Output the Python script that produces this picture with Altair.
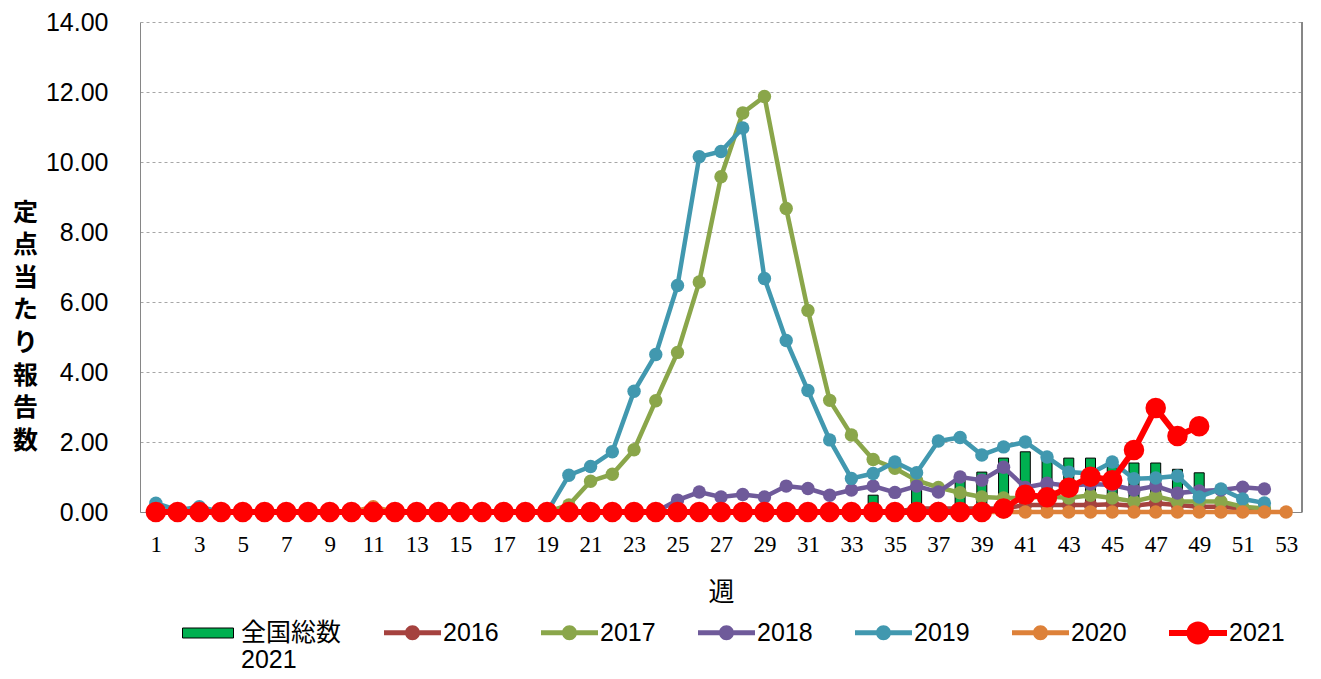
import altair as alt
import pandas as pd

# ---------------- data ----------------
weeks = list(range(1, 54))

y2016 = [0]*35 + [0.1, 0.1, 0.1, 0.1, 0.1,
                  0.2, 0.2, 0.2, 0.2, 0.22, 0.18, 0.25, 0.2, 0.15, 0.15, 0.1, 0.05]
y2017 = [0]*19 + [0.2, 0.88, 1.08, 1.78, 3.18, 4.56, 6.57, 9.58, 11.4, 11.87, 8.67,
                  5.76, 3.19, 2.2, 1.5, 1.25, 0.9, 0.7, 0.55, 0.43, 0.4,
                  0.4, 0.45, 0.4, 0.48, 0.4, 0.3, 0.45, 0.3, 0.3, 0.3, 0.15, 0.1]
y2018 = [0]*24 + [0.34, 0.57, 0.43, 0.5, 0.43, 0.74, 0.67, 0.48, 0.63, 0.74,
                  0.56, 0.74, 0.57, 1.0, 0.91, 1.28, 0.7, 0.82, 0.75, 0.8,
                  0.77, 0.63, 0.74, 0.54, 0.6, 0.63, 0.71, 0.66]
y2019 = [0.25, 0.05, 0.15] + [0]*16 + [1.05, 1.3, 1.72, 3.45, 4.5, 6.47, 10.15, 10.3,
                                      10.97, 6.67, 4.9, 3.47, 2.06, 0.96, 1.1, 1.43,
                                      1.12, 2.03, 2.13, 1.63, 1.86, 2.0, 1.57, 1.14,
                                      1.1, 1.43, 0.95, 0.97, 1.03, 0.43, 0.66, 0.37, 0.26]
y2020 = [0]*10 + [0.15] + [0]*42
y2021 = [0]*39 + [0.1, 0.49, 0.42, 0.69, 1.01, 0.91, 1.77, 2.97, 2.17, 2.45]

bar_weeks = [34, 36, 38, 39, 40, 41, 42, 43, 44, 45, 46, 47, 48, 49]
bar_values = [0.48, 0.85, 0.95, 1.14, 1.54, 1.72, 1.6, 1.54, 1.54, 1.45, 1.4, 1.4, 1.22, 1.12]

series_names = ["2016", "2017", "2018", "2019", "2020"]
series_values = [y2016, y2017, y2018, y2019, y2020]
series_colors = ["#A5423F", "#8AA64A", "#6F5A9A", "#4198AF", "#DD8139"]
bar_label = "全国総数2021"
y_title = ["定", "点", "当", "た", "り", "報", "告", "数"]

x_ticks = list(range(1, 54, 2))
y_ticks = [0, 2, 4, 6, 8, 10, 12, 14]

# ---------------- tables ----------------
bar_df = pd.DataFrame({"week": bar_weeks, "value": bar_values, "blabel": bar_label})
series_dfs = [
    pd.DataFrame({"week": weeks[:len(v)], "value": v, "series": n})
    for n, v in zip(series_names, series_values)
]
df2021 = pd.DataFrame({"week": weeks[:len(y2021)], "value": y2021, "s2021": "2021"})

W, H = 1162, 490
SANS = "Liberation Sans, Arial, Noto Sans CJK JP, sans-serif"

x_enc = alt.X(
    "week:Q",
    scale=alt.Scale(domain=[0.5, 53.5], nice=False, zero=False),
    axis=alt.Axis(
        values=x_ticks, labelFont="Liberation Serif", labelFontSize=23, labelColor="black",
        labelPadding=21, labelAngle=0, labelFlush=False, ticks=False, grid=False,
        domain=True, domainColor="#868686", domainWidth=1,
        title="週", titleFont="Noto Sans CJK JP", titleFontSize=26, titleFontWeight="normal",
        titleColor="black", titlePadding=23,
    ),
)
y_enc = alt.Y(
    "value:Q",
    scale=alt.Scale(domain=[0, 14], nice=False),
    axis=alt.Axis(
        values=y_ticks, format=".2f", labelFont=SANS, labelFontSize=25, labelColor="black",
        labelPadding=32, ticks=False, grid=True, gridColor="#A6A6A6", gridDash=[3, 3],
        gridWidth=1, domain=True, domainColor="#868686", domainWidth=1,
        title=y_title,
        titleFont="Noto Sans CJK JP", titleFontSize=25, titleFontWeight="bold",
        titleColor="black", titleAngle=0, titleAlign="center", titleBaseline="middle",
        titleLineHeight=32.6, titleX=-115, titleY=190,
    ),
)

line_path = ("M-1,-0.088L-0.25,-0.088L-0.25,0.088L-1,0.088Z"
             "M0.25,-0.088L1,-0.088L1,0.088L0.25,0.088Z"
             "M-0.263,0A0.263,0.263,0,1,1,0.263,0A0.263,0.263,0,1,1,-0.263,0Z")
red_path = ("M-1,-0.103L-0.385,-0.103L-0.385,0.103L-1,0.103Z"
            "M0.385,-0.103L1,-0.103L1,0.103L0.385,0.103Z"
            "M-0.397,0A0.397,0.397,0,1,1,0.397,0A0.397,0.397,0,1,1,-0.397,0Z")
bar_path = "M-1,-0.196L1,-0.196L1,0.196L-1,0.196Z"

bar_legend = alt.Legend(
    orient="none", legendX=42, legendY=585, title=None, padding=0,
    symbolType=bar_path, symbolSize=2601, symbolStrokeColor="black", symbolStrokeWidth=1,
    labelFont=SANS, labelFontSize=25, labelColor="black", labelOffset=7,
    labelExpr="['全国総数', '2021']", labelBaseline="middle", labelLimit=300,
)
line_legend = alt.Legend(
    orient="none", legendX=244, legendY=582, title=None, padding=0,
    direction="horizontal", columns=5, columnPadding=42,
    symbolType=line_path, symbolSize=3249, symbolStrokeWidth=0,
    labelFont=SANS, labelFontSize=25, labelColor="black", labelOffset=2,
)
red_legend = alt.Legend(
    orient="none", legendX=1029, legendY=582, title=None, padding=0,
    symbolType=red_path, symbolSize=3364, symbolStrokeWidth=0, symbolFillColor="#FF0000",
    labelFont=SANS, labelFontSize=25, labelColor="black", labelOffset=2,
)

layers = []
bars = alt.Chart(bar_df).mark_bar(size=10, stroke="black", strokeWidth=1).encode(
    x=x_enc, y=y_enc,
    fill=alt.Fill("blabel:N", scale=alt.Scale(domain=[bar_label], range=["#00B050"]),
                  legend=bar_legend),
)
layers.append(bars)

color_scale = alt.Scale(domain=series_names, range=series_colors)
for name, sdf, col in zip(series_names, series_dfs, series_colors):
    ln = alt.Chart(sdf).mark_line(color=col, strokeWidth=4.5).encode(x=x_enc, y=y_enc)
    pt = alt.Chart(sdf).mark_point(filled=True, size=180, opacity=1, strokeWidth=0).encode(
        x=x_enc, y=y_enc,
        color=alt.Color("series:N", scale=color_scale, legend=line_legend),
    )
    layers += [ln, pt]

ln21 = alt.Chart(df2021).mark_line(color="#FF0000", strokeWidth=6).encode(x=x_enc, y=y_enc)
pt21 = alt.Chart(df2021).mark_point(filled=True, fill="#FF0000", size=420, opacity=1,
                                     strokeWidth=0).encode(
    x=x_enc, y=y_enc,
    stroke=alt.Stroke("s2021:N", scale=alt.Scale(domain=["2021"], range=["#FF0000"]),
                      legend=red_legend),
)
layers += [ln21, pt21]

frame = alt.Chart(bar_df).mark_rule(color="#868686", strokeWidth=1).encode(
    x=alt.value(W), y=alt.value(0), y2=alt.value(H)
)
layers.append(frame)

chart = alt.layer(*layers).resolve_scale(
    fill="independent", stroke="independent"
).properties(
    width=W, height=H, autosize="none",
    padding={"left": 132, "top": 14, "right": 11, "bottom": 167},
).configure_view(stroke=None)

chart.save("out.html", embed_options={"renderer": "svg", "actions": False})
